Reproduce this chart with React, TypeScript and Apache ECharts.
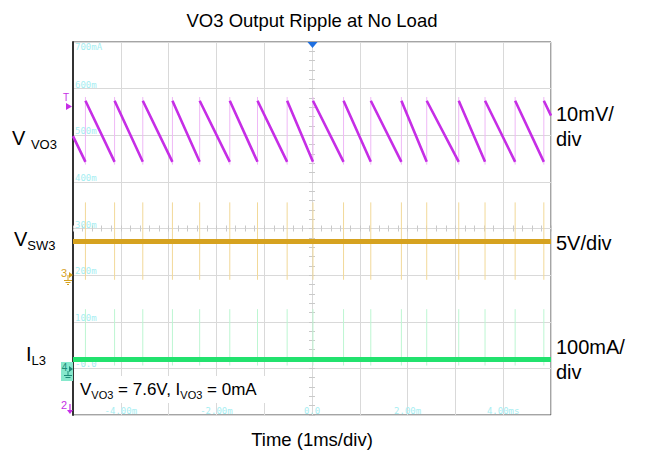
import React, { useEffect, useRef } from "react";
import * as echarts from "echarts";

// ---- data (time in ms, screen center = 0; 10 div x 8 div) ----
const switchTimesMs = [-4.74, -4.13, -3.54, -2.92, -2.35, -1.72, -1.14, -0.52, 0.02, 0.66, 1.23, 1.87, 2.4, 3.07, 3.62, 4.25, 4.85];

// VO3 ripple (mV relative to screen center, 10 mV/div)
const vo3MvPerDiv = 10;
const vo3PeakMv = 27.4;
const vo3TroughMv = 14.3;
const vo3StartMv = 19.8;
const vo3EndMv = 24.2;

// VSW3 (V, 5 V/div, ground marker at -1 div)
const sw3VPerDiv = 5;
const sw3GroundDiv = -1;
const sw3LevelV = 3.6;
const sw3SpikeHighV = 7.8;
const sw3SpikeLowV = -0.5;

// IL3 (mA, 100 mA/div, ground marker at -3 div)
const il3MaPerDiv = 100;
const il3GroundDiv = -3;
const il3LevelMa = 19;
const il3SpikeHighMa = 127;
const il3SpikeLowMa = 6;

const xLabelValues = [-4, -2, 0, 2, 4];
const xLabelTexts = ["-4.00m", "-2.00m", "0.0", "2.00m", "4.00ms"];
const yLabelValues = [-3, -2, -1, 0, 1, 2, 3, 4];
const yLabelTexts = ["-0.0", "100m", "200m", "300m", "400m", "500m", "600m", "700mA"];

const FONT = "'Liberation Sans', Arial, sans-serif";
const MONO = "'DejaVu Sans Mono', monospace";
const CYAN = "#a6eef2";

function buildOption() {
  const vo3 = (mv: number) => mv / vo3MvPerDiv;
  const sw3 = (v: number) => v / sw3VPerDiv + sw3GroundDiv;
  const il3 = (ma: number) => ma / il3MaPerDiv + il3GroundDiv;

  const ramp: any[] = [[-5, vo3(vo3StartMv)], [switchTimesMs[0], vo3(vo3TroughMv)], [switchTimesMs[0], null]];
  switchTimesMs.forEach((t, i) => {
    if (i < switchTimesMs.length - 1) {
      ramp.push([t, vo3(vo3PeakMv)], [switchTimesMs[i + 1], vo3(vo3TroughMv)], [switchTimesMs[i + 1], null]);
    } else {
      ramp.push([t, vo3(vo3PeakMv)], [5, vo3(vo3EndMv)]);
    }
  });
  const rises: any[] = [];
  const swSpikes: any[] = [];
  const ilSpikes: any[] = [];
  switchTimesMs.forEach((t) => {
    rises.push([t, vo3(vo3TroughMv) - 0.06], [t, vo3(vo3PeakMv) + 0.08], [t, null]);
    swSpikes.push([t, sw3(sw3SpikeLowV)], [t, sw3(sw3SpikeHighV)], [t, null]);
    ilSpikes.push([t, il3(il3SpikeLowMa)], [t, il3(il3SpikeHighMa)], [t, null]);
  });

  const line = (data: any[], color: string, width: number, z = 2) => ({
    type: "line",
    data,
    symbol: "none",
    silent: true,
    z,
    lineStyle: { color, width, cap: "butt" },
    connectNulls: false,
  });

  const tickAxisX = (inside: boolean) => ({
    type: "value",
    min: -5,
    max: 5,
    interval: 1,
    position: "bottom",
    axisLine: { show: true, onZero: true, onZeroAxisIndex: 0, lineStyle: { color: "rgba(0,0,0,0)" } },
    axisTick: { show: true, inside, length: 3, lineStyle: { color: "#c9c9c9" } },
    minorTick: { show: true, splitNumber: 5, length: 3, lineStyle: { color: "#c9c9c9" } },
    axisLabel: { show: false },
    splitLine: { show: false },
  });
  const tickAxisY = (inside: boolean) => ({
    type: "value",
    min: -4,
    max: 4,
    interval: 1,
    position: "left",
    axisLine: { show: true, onZero: true, onZeroAxisIndex: 0, lineStyle: { color: "rgba(0,0,0,0)" } },
    axisTick: { show: true, inside, length: 3, lineStyle: { color: "#c9c9c9" } },
    minorTick: { show: true, splitNumber: 5, length: 3, lineStyle: { color: "#c9c9c9" } },
    axisLabel: { show: false },
    splitLine: { show: false },
  });

  const richMain = { fontSize: 20, fontFamily: FONT, color: "#000", lineHeight: 26, verticalAlign: "middle" };
  const richSub = { fontSize: 13, fontFamily: FONT, color: "#000", lineHeight: 13, verticalAlign: "bottom" };
  const richAnnMain = { fontSize: 17, fontFamily: FONT, color: "#000", lineHeight: 22, verticalAlign: "middle" };
  const richAnnSub = { fontSize: 11, fontFamily: FONT, color: "#000", lineHeight: 11, verticalAlign: "bottom" };

  return {
    animation: false,
    grid: { left: 73, top: 42, right: 95, bottom: 49, show: true, borderColor: "#4a4a4a", borderWidth: 1, backgroundColor: "#fff" },
    xAxis: [
      {
        type: "value",
        min: -5,
        max: 5,
        interval: 1,
        position: "bottom",
        axisLine: { show: false, onZero: false },
        axisTick: { show: false },
        splitLine: { show: true, lineStyle: { color: "#d9d9d9", width: 1 } },
        axisLabel: {
          inside: true,
          margin: 0,
          showMinLabel: false,
          showMaxLabel: false,
          color: CYAN,
          fontSize: 9,
          fontFamily: MONO,
          formatter: (v: number) => {
            const i = xLabelValues.indexOf(Math.round(v));
            return i >= 0 ? xLabelTexts[i] : "";
          },
        },
      },
      tickAxisX(true),
      tickAxisX(false),
    ],
    yAxis: [
      {
        type: "value",
        min: -4,
        max: 4,
        interval: 1,
        position: "left",
        axisLine: { show: true, onZero: false, lineStyle: { color: "#333", width: 2 } },
        axisTick: { show: false },
        splitLine: { show: true, lineStyle: { color: "#d9d9d9", width: 1 } },
        axisLabel: {
          inside: true,
          margin: 2,
          formatter: (v: number) => {
            const i = yLabelValues.indexOf(Math.round(v));
            if (i < 0) return "";
            return Math.round(v) === 4 ? `{t|${yLabelTexts[i]}}` : `{n|${yLabelTexts[i]}}`;
          },
          rich: {
            t: { color: CYAN, fontSize: 9, fontFamily: MONO, padding: [10, 0, 0, 0] },
            n: { color: CYAN, fontSize: 9, fontFamily: MONO, padding: [0, 0, 8, 0] },
          },
        },
      },
      tickAxisY(true),
      tickAxisY(false),
    ],
    series: [
      line(rises, "#efb8f6", 1, 2),
      line(swSpikes, "#f2d999", 1, 2),
      line(ilSpikes, "#bdf6d2", 1, 2),
      line(ramp, "#c62ee6", 2.6, 3),
      line([[-5, sw3(sw3LevelV)], [5, sw3(sw3LevelV)]], "#d6a21f", 5, 3),
      line([[-5, il3(il3LevelMa)], [5, il3(il3LevelMa)]], "#22e26e", 5, 3),
    ],
    graphic: [
      { type: "text", x: 312, y: 20, style: { text: "VO3 Output Ripple at No Load", fontSize: 18.5, fontFamily: FONT, fill: "#000", align: "center", verticalAlign: "middle" } },
      { type: "text", x: 312, y: 439, style: { text: "Time (1ms/div)", fontSize: 18.5, fontFamily: FONT, fill: "#000", align: "center", verticalAlign: "middle" } },
      // left channel names
      { type: "text", x: 12, y: 138, style: { text: "{v|V }{s|VO3}", rich: { v: richMain, s: richSub }, verticalAlign: "middle" } },
      { type: "text", x: 14, y: 239, style: { text: "{v|V}{s|SW3}", rich: { v: richMain, s: richSub }, verticalAlign: "middle" } },
      { type: "text", x: 26, y: 354, style: { text: "{v|I}{s|L3}", rich: { v: richMain, s: richSub }, verticalAlign: "middle" } },
      // right scales
      { type: "text", x: 556, y: 126, style: { text: "10mV/\ndiv", fontSize: 20, lineHeight: 25, fontFamily: FONT, fill: "#000", verticalAlign: "middle" } },
      { type: "text", x: 556, y: 243, style: { text: "5V/div", fontSize: 20, fontFamily: FONT, fill: "#000", verticalAlign: "middle" } },
      { type: "text", x: 556, y: 359, style: { text: "100mA/\ndiv", fontSize: 20, lineHeight: 25, fontFamily: FONT, fill: "#000", verticalAlign: "middle" } },
      // annotation
      { type: "rect", shape: { x: 76, y: 376, width: 190, height: 27 }, style: { fill: "#fff" }, z: 50 },
      { type: "text", x: 80, y: 389, z: 51, style: { text: "{v|V}{s|VO3}{v| = 7.6V, I}{s|VO3}{v| = 0mA}", rich: { v: richAnnMain, s: richAnnSub }, verticalAlign: "middle" } },
      // trigger position marker (top)
      { type: "polygon", z: 60, shape: { points: [[307.5, 42], [317.5, 42], [312.5, 48]] }, style: { fill: "#1f6fe0" } },
      // T marker
      { type: "text", x: 66, y: 97, z: 60, style: { text: "T", fontSize: 10, fontFamily: FONT, fill: "#c62ee6", align: "center", verticalAlign: "middle" } },
      { type: "polygon", z: 60, shape: { points: [[66, 103], [72, 106.5], [66, 110]] }, style: { fill: "#c62ee6" } },
      // channel 3 ground marker
      { type: "text", x: 64, y: 273, z: 60, style: { text: "3", fontSize: 11, fontFamily: FONT, fill: "#d6a21f", align: "center", verticalAlign: "middle" } },
      { type: "polygon", z: 60, shape: { points: [[69, 272], [73, 275], [69, 278]] }, style: { fill: "#d6a21f" } },
      { type: "line", z: 60, shape: { x1: 68, y1: 275, x2: 68, y2: 280 }, style: { stroke: "#d6a21f", lineWidth: 1 } },
      { type: "line", z: 60, shape: { x1: 64, y1: 280.5, x2: 72, y2: 280.5 }, style: { stroke: "#d6a21f", lineWidth: 1 } },
      { type: "line", z: 60, shape: { x1: 65.5, y1: 282.5, x2: 70.5, y2: 282.5 }, style: { stroke: "#d6a21f", lineWidth: 1 } },
      { type: "line", z: 60, shape: { x1: 67, y1: 284.5, x2: 69, y2: 284.5 }, style: { stroke: "#d6a21f", lineWidth: 1 } },
      // channel 4 ground marker
      { type: "rect", z: 60, shape: { x: 61, y: 362, width: 12, height: 19 }, style: { fill: "#86e8cc" } },
      { type: "text", x: 64.5, y: 367, z: 61, style: { text: "4", fontSize: 10, fontFamily: FONT, fill: "#1c8a78", align: "center", verticalAlign: "middle" } },
      { type: "polygon", z: 61, shape: { points: [[69, 366], [73, 369], [69, 372]] }, style: { fill: "#1c8a78" } },
      { type: "line", z: 61, shape: { x1: 68, y1: 371, x2: 68, y2: 375 }, style: { stroke: "#1c8a78", lineWidth: 1 } },
      { type: "line", z: 61, shape: { x1: 64, y1: 375.5, x2: 72, y2: 375.5 }, style: { stroke: "#1c8a78", lineWidth: 1 } },
      { type: "line", z: 61, shape: { x1: 65.5, y1: 377.5, x2: 70.5, y2: 377.5 }, style: { stroke: "#1c8a78", lineWidth: 1 } },
      // channel 2 off-screen marker
      { type: "text", x: 64, y: 405, z: 60, style: { text: "2", fontSize: 11, fontFamily: FONT, fill: "#c62ee6", align: "center", verticalAlign: "middle" } },
      { type: "line", z: 60, shape: { x1: 70, y1: 404, x2: 70, y2: 411 }, style: { stroke: "#c62ee6", lineWidth: 1.2 } },
      { type: "polygon", z: 60, shape: { points: [[67, 410], [73, 410], [70, 414]] }, style: { fill: "#c62ee6" } },
    ],
  };
}

export default function App() {
  const ref = useRef<HTMLDivElement>(null);
  useEffect(() => {
    if (!ref.current) return;
    const chart = echarts.init(ref.current, undefined, { renderer: "svg" });
    chart.setOption(buildOption() as any);
    return () => chart.dispose();
  }, []);
  return <div ref={ref} style={{ position: "absolute", left: 0, top: 0, width: 646, height: 464, background: "#fff" }} />;
}
